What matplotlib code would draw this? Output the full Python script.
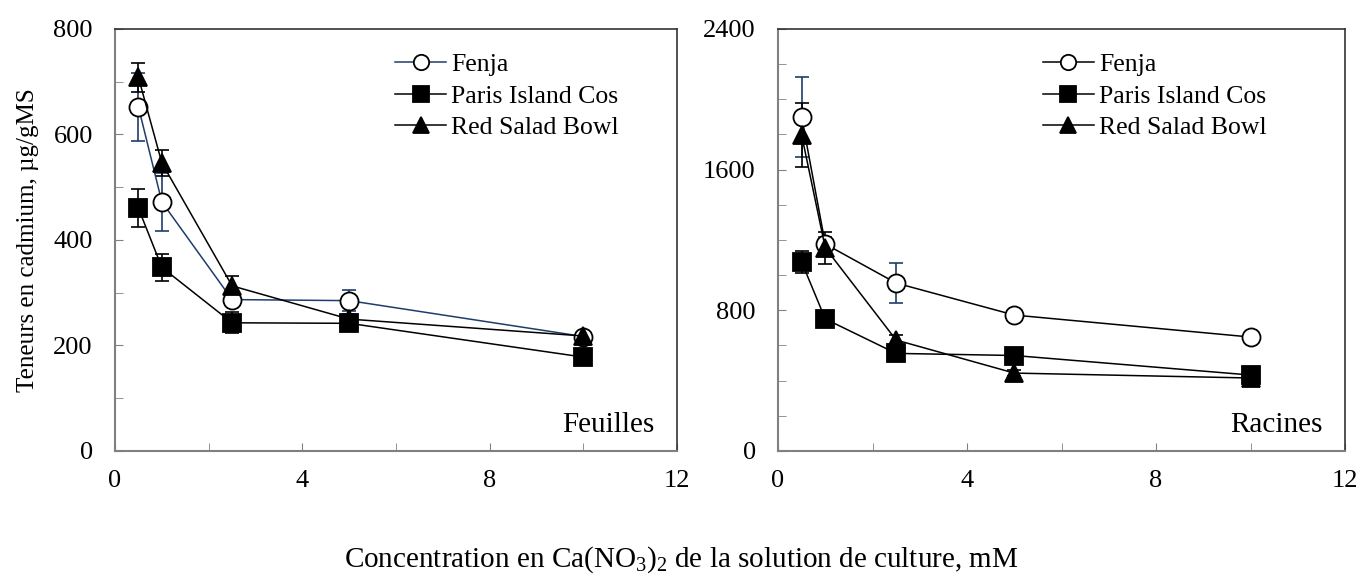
import matplotlib.pyplot as plt

plt.rcParams['font.family'] = ['Liberation Serif', 'DejaVu Serif']
plt.rcParams['mathtext.fontset'] = 'custom'
plt.rcParams['mathtext.rm'] = 'Liberation Serif'
plt.rcParams['mathtext.it'] = 'Liberation Serif'

conc = [0.5, 1, 2.5, 5, 10]

# Feuilles (leaves)
leaf_fenja = [652, 472, 287, 285, 217]
leaf_fenja_err = [64, 55, 12, 20, 8]
leaf_paris = [460, 348, 243, 242, 178]
leaf_paris_err = [36, 25, 20, 15, 10]
leaf_red = [708, 546, 313, 250, 218]
leaf_red_err = [28, 24, 18, 10, 8]

# Racines (roots)
root_fenja = [1900, 1177, 955, 773, 648]
root_fenja_err = [228, 40, 114, 20, 10]
root_paris = [1075, 751, 555, 543, 432]
root_paris_err = [63, 15, 40, 15, 15]
root_red = [1797, 1155, 631, 443, 415]
root_red_err = [180, 90, 30, 15, 15]

names = ['Fenja', 'Paris Island Cos', 'Red Salad Bowl']
blue = '#1f3d6b'

fig = plt.figure(figsize=(13.63, 5.77), dpi=100)
ax1 = fig.add_axes([0.0844, 0.2184, 0.4123, 0.7314])
ax2 = fig.add_axes([0.5708, 0.2184, 0.4160, 0.7314])


def draw(ax, series, fenja_line):
    styles = [('o', 'white', fenja_line, blue),
              ('s', 'black', 'black', 'black'),
              ('^', 'black', 'black', 'black')]
    for (y, e), name, (m, fc, lc, ec) in zip(series, names, styles):
        ax.errorbar(conc, y, yerr=e, fmt='none', ecolor=ec, elinewidth=1.2,
                    capsize=5, capthick=1.2, zorder=2)
        ax.plot(conc, y, marker=m, markersize=13, markerfacecolor=fc,
                markeredgecolor='black', markeredgewidth=1.3, color=lc,
                linewidth=1.1, label=name, zorder=3)


draw(ax1, [(leaf_fenja, leaf_fenja_err), (leaf_paris, leaf_paris_err),
           (leaf_red, leaf_red_err)], blue)
draw(ax2, [(root_fenja, root_fenja_err), (root_paris, root_paris_err),
           (root_red, root_red_err)], 'black')

panels = [(ax1, 800, 200, 100, 'Feuilles', 0.498),
          (ax2, 2400, 800, 200, 'Racines', 0.467)]
for ax, ymax, major, minor, label, lx in panels:
    ax.set_xlim(0, 12)
    ax.set_ylim(0, ymax)
    ax.set_xticks(range(0, 13, 4))
    ax.set_xticks(range(0, 13, 2), minor=True)
    ax.set_yticks(range(0, ymax + 1, major))
    ax.set_yticks(range(0, ymax + 1, minor), minor=True)
    ax.tick_params(which='both', direction='in', labelsize=19, length=6,
                   color='#808080')
    ax.tick_params(axis='y', pad=16)
    ax.tick_params(axis='x', pad=14)
    for s in ['left', 'bottom']:
        ax.spines[s].set_color('#808080')
        ax.spines[s].set_linewidth(1.5)
    for s in ['top', 'right']:
        ax.spines[s].set_color('#333333')
        ax.spines[s].set_linewidth(1.2)
    ax.text(0.96, 0.03, label, transform=ax.transAxes, ha='right',
            va='bottom', fontsize=21)
    ax.legend(loc='upper left', bbox_to_anchor=(lx, 0.942), frameon=False,
              fontsize=18.5, handlelength=2.0, handletextpad=0.2,
              labelspacing=0.33, borderpad=0, borderaxespad=0,
              markerscale=0.85)

ax1.set_ylabel('Teneurs en cadmium, µg/gMS', fontsize=18, labelpad=10)
fig.text(0.5, 0.03, 'Concentration en Ca(NO$_3$)$_2$ de la solution de culture, mM',
         ha='center', va='center', fontsize=21)

fig.savefig('out.png', dpi=100)
